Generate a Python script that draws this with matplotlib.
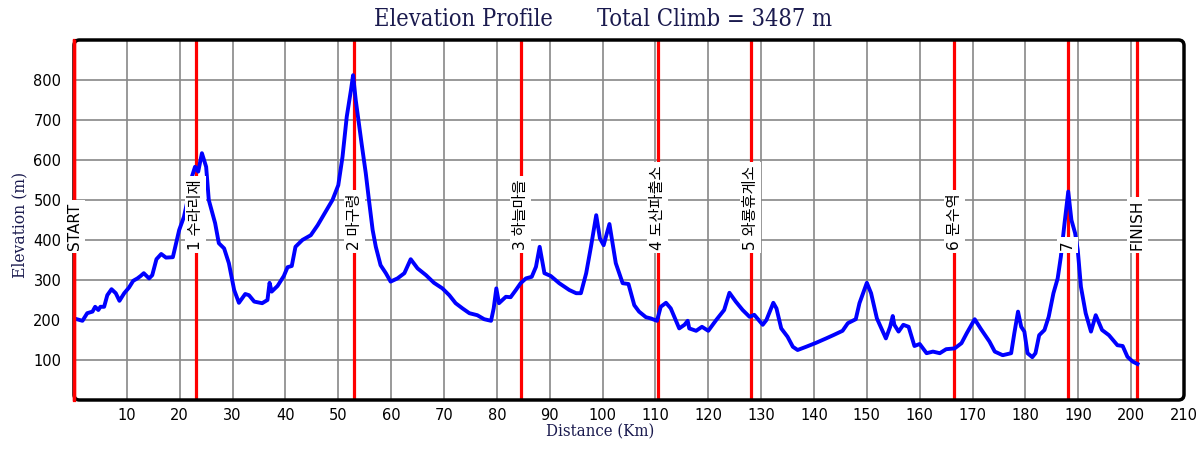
import matplotlib
matplotlib.use("Agg")
import matplotlib.pyplot as plt
from matplotlib.patches import FancyBboxPatch

# ---- data ----
dist_km = [0, 1.6, 2.5, 3.5, 4.0, 4.6, 5.0, 5.7, 6.3, 7.1, 7.9, 8.6, 9.5, 10.4, 11.2,
           12.0, 12.6, 13.2, 14.2, 14.8, 15.6, 16.5, 17.4, 18.7, 19.9, 20.8, 21.5, 22.3,
           22.9, 23.5, 24.2, 24.6, 25.0, 25.5, 26.7, 27.4, 28.4, 29.3, 30.3, 31.2, 32.4,
           33.1, 34.1, 35.6, 36.6, 37.0, 37.4, 38.5, 39.7, 40.4, 41.2, 41.9, 43.2, 44.8,
           46.1, 47.6, 48.9, 50.0, 50.8, 51.6, 52.4, 52.8, 53.3, 54.0, 54.4, 55.2, 55.8,
           56.5, 57.1, 58.0, 59.0, 59.9, 61.2, 62.5, 63.7, 65.0, 66.6, 68.1, 69.7, 71.0,
           72.2, 73.5, 74.8, 76.3, 77.6, 78.9, 79.4, 79.9, 80.4, 81.7, 82.6, 83.6, 84.5,
           85.5, 86.6, 87.4, 88.1, 89.0, 90.2, 91.8, 93.7, 95.0, 95.9, 96.9, 97.8, 98.8,
           99.5, 100.2, 101.3, 102.5, 103.8, 104.9, 106.0, 106.9, 108.2, 109.1, 110.3,
           111.0, 112.0, 112.9, 114.5, 115.5, 116.1, 116.4, 117.7, 118.8, 120.0, 121.5,
           123.0, 124.0, 125.2, 126.5, 127.8, 128.7, 130.3, 131.0, 132.3, 132.9, 133.8,
           135.0, 136.0, 136.9, 138.5, 140.4, 142.3, 143.8, 145.4, 146.4, 147.9, 148.6,
           150.0, 150.8, 151.9, 153.6, 154.4, 154.9, 155.2, 156.0, 156.9, 157.9, 159.0,
           160.0, 161.3, 162.5, 163.8, 165.0, 166.6, 167.9, 168.9, 170.4, 171.6, 173.2,
           174.2, 175.7, 177.3, 177.9, 178.6, 179.2, 179.8, 180.4, 181.3, 181.9, 182.6,
           183.6, 184.4, 185.3, 186.1, 186.7, 187.4, 188.1, 188.7, 189.4, 189.9, 190.5,
           191.4, 192.4, 193.3, 194.5, 195.8, 197.4, 198.4, 199.3, 200.3, 201.2]
elev_m = [204, 198, 217, 221, 233, 225, 233, 233, 262, 277, 267, 248, 267, 281, 298,
          304, 310, 317, 304, 312, 352, 365, 356, 357, 425, 458, 500, 558,
          583, 571, 617, 600, 583, 500, 442, 392, 379, 342, 275, 243, 265,
          262, 246, 242, 250, 293, 271, 285, 310, 332, 335, 383, 400, 412,
          437, 471, 500, 537, 608, 708, 775, 812, 750, 680, 642, 567, 500,
          425, 383, 337, 317, 296, 304, 317, 352, 329, 312, 293, 279, 262,
          242, 229, 217, 212, 202, 198, 229, 279, 242, 258, 257, 275, 292,
          304, 308, 333, 383, 317, 310, 292, 275, 267, 267, 317, 383, 462,
          404, 387, 440, 342, 292, 290, 237, 221, 207, 204, 198,
          233, 243, 229, 179, 188, 198, 179, 173, 183, 173, 200,
          225, 268, 246, 225, 208, 213, 188, 200, 243, 229, 179,
          158, 133, 125, 133, 143, 154, 163, 173, 192, 202, 242,
          293, 267, 204, 154, 183, 210, 188, 171, 188, 183, 135,
          140, 117, 121, 117, 127, 129, 142, 167, 202, 177, 146,
          121, 112, 117, 167, 221, 183, 171, 117, 107, 117, 162,
          175, 208, 267, 304, 358, 442, 521, 450, 417, 375, 283,
          217, 171, 212, 175, 162, 137, 135, 108, 96, 90]

marker_km = [0, 23.0, 53.0, 84.5, 110.4, 128.0, 166.5, 188.0, 201.2]
marker_labels = ["START", "1 수라리재", "2 마구령", "3 하늘마을", "4 도산파출소",
                 "5 와룡휴게소", "6 문수역", "7", "FINISH"]

x_ticks = list(range(10, 211, 10))
y_ticks = list(range(100, 801, 100))
total_climb = 3487

# ---- figure ----
navy = "#1a1a4e"
serif = dict(family="DejaVu Serif", stretch="condensed")
fig = plt.figure(figsize=(12, 4.5), dpi=100)
ax = fig.add_axes([74 / 1200, 1 - 400 / 450, 1110 / 1200, 360 / 450])
ax.set_xlim(0, 210)
ax.set_ylim(0, 900)

for x in range(10, 210, 10):
    ax.axvline(x, color="#888888", lw=1.2, zorder=1)
for y in range(100, 900, 100):
    ax.axhline(y, color="#888888", lw=1.2, zorder=1)

for k in marker_km:
    ax.axvline(k, color="#ff0000", lw=2.3, zorder=2, clip_on=(k != 0))

ax.plot(dist_km, elev_m, color="#0000ff", lw=2.8, zorder=3, solid_joinstyle="round")

for k, lab in zip(marker_km, marker_labels):
    ax.text(k, 375, lab, rotation=90, ha="center", va="bottom", fontsize=11,
            family=["DejaVu Sans", "Noto Sans CJK KR"], color="black", zorder=7,
            bbox=dict(boxstyle="square,pad=0.2", fc="white", ec="none"))

for s in ax.spines.values():
    s.set_visible(False)
frame = FancyBboxPatch((0, 0), 1, 1, boxstyle="round,pad=0,rounding_size=0.005",
                       transform=ax.transAxes, fill=False, ec="black", lw=2.5,
                       zorder=5, clip_on=False, mutation_aspect=1110 / 360)
ax.add_patch(frame)
# keep START red line visible on the left edge
ax.axvline(0, color="#ff0000", lw=2.5, zorder=6, clip_on=False, ymin=0.004, ymax=0.996)

ax.set_xticks(x_ticks)
ax.set_yticks(y_ticks)
ax.tick_params(length=0, labelsize=10.5, pad=6)
ax.tick_params(axis="y", pad=9)

fig.text(553 / 1200, 1 - 19 / 450, "Elevation Profile", ha="right", va="center",
         fontsize=17, color=navy, **serif)
fig.text(597 / 1200, 1 - 19 / 450, f"Total Climb = {total_climb} m", ha="left",
         va="center", fontsize=17, color=navy, **serif)
fig.text(600 / 1200, 1 - 432 / 450, "Distance (Km)", ha="center", va="center",
         fontsize=12, color=navy, **serif)
fig.text(20 / 1200, 1 - 225 / 450, "Elevation (m)", ha="center", va="center",
         rotation=90, fontsize=12.5, color=navy, **serif)

fig.savefig("out.png", dpi=100)
